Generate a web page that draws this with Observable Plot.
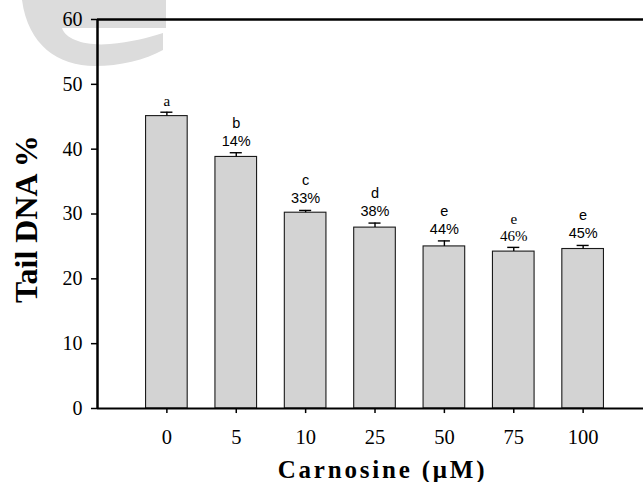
<!DOCTYPE html>
<html>
<head>
<meta charset="utf-8">
<script src="https://cdn.jsdelivr.net/npm/d3@7"></script>
<script src="https://cdn.jsdelivr.net/npm/@observablehq/plot@0.6"></script>
<style>
  body { margin: 0; background: #fff; }
  #wrap { position: relative; width: 643px; height: 482px; overflow: hidden; }
  #wm { position: absolute; left: 0; top: 0; }
  #chart { position: absolute; left: 0; top: 0; }
</style>
</head>
<body>
<div id="wrap">
  <svg id="wm" width="643" height="482">
    <path d="M22,0 H166 V28 H62 C66,40 86,46 110,44 C130,42 148,38 163,33 L163,50 C145,60 120,66 95,66 C58,66 28,45 22,0 Z" fill="#dcdcdc"/>
  </svg>
  <div id="chart"></div>
</div>
<script>
// ---- data ----
const doses = ["0", "5", "10", "25", "50", "75", "100"];           // Carnosine (µM)
const tailDNA = [45.1, 38.8, 30.2, 27.9, 25.0, 24.2, 24.6];       // Tail DNA %
const sem = [0.6, 0.65, 0.35, 0.7, 0.85, 0.65, 0.55];             // upward error bars
const letters = ["a", "b", "c", "d", "e", "e", "e"];
const reductions = ["", "14%", "33%", "38%", "44%", "46%", "45%"];
const yTicks = [0, 10, 20, 30, 40, 50, 60];
const xLabel = "Carnosine (\u03BCM)";
const yLabel = "Tail DNA %";

// style config (not data)
const serifLabelBars = [0, 5];

const rows = doses.map((d, i) => ({
  i,
  dose: d,
  value: tailDNA[i],
  top: tailDNA[i] + sem[i],
  label: reductions[i] ? letters[i] + "\n" + reductions[i] : letters[i]
}));

const half = 0.3, cap = 0.087, yTickLen = 0.087, xTickLen = 0.78;
const serif = "Liberation Serif", sans = "Liberation Sans";

const chart = Plot.plot({
  width: 643,
  height: 482,
  marginLeft: 97,
  marginRight: 0,
  marginTop: 19,
  marginBottom: 74,
  style: { background: "transparent" },
  x: { type: "linear", domain: [-1, 6.87], axis: null },
  y: { domain: [0, 60], axis: null },
  marks: [
    Plot.rectY(rows, {
      x1: d => d.i - half, x2: d => d.i + half, y1: 0, y2: "value",
      fill: "#d3d3d3", stroke: "#1a1a1a", strokeWidth: 1.1
    }),
    Plot.ruleX(rows, { x: "i", y1: "value", y2: "top", stroke: "black", strokeWidth: 1.4 }),
    Plot.ruleY(rows, { y: "top", x1: d => d.i - cap, x2: d => d.i + cap, stroke: "black", strokeWidth: 1.4 }),
    Plot.text(rows.filter(d => !serifLabelBars.includes(d.i)), {
      x: "i", y: "top", text: "label", lineAnchor: "bottom", dy: -7,
      fontFamily: sans, fontSize: 14.5, lineHeight: 1.25, fill: "black"
    }),
    Plot.text(rows.filter(d => serifLabelBars.includes(d.i)), {
      x: "i", y: "top", text: "label", lineAnchor: "bottom", dy: -6,
      fontFamily: serif, fontSize: 15, lineHeight: 1.15, fill: "black"
    }),
    // y axis ticks & labels
    Plot.ruleY(yTicks, { y: d => d, x1: -1 - yTickLen, x2: -1, stroke: "black", strokeWidth: 1.5 }),
    Plot.text(yTicks, {
      x: -1, y: d => d, text: d => String(d), textAnchor: "end", dx: -15,
      fontFamily: serif, fontSize: 20, fill: "black"
    }),
    // x axis ticks & labels
    Plot.ruleX(rows, { x: "i", y1: 0, y2: -xTickLen, stroke: "black", strokeWidth: 1.5 }),
    Plot.text(rows, {
      x: "i", y: 0, text: "dose", lineAnchor: "bottom", dy: 35,
      fontFamily: serif, fontSize: 20.5, fill: "black"
    }),
    // frame lines
    Plot.ruleX([-1], { y1: 0, y2: 60, stroke: "black", strokeWidth: 2.5 }),
    Plot.ruleY([0], { stroke: "black", strokeWidth: 2 }),
    Plot.ruleY([60], { stroke: "black", strokeWidth: 2.6 }),
    // axis titles
    Plot.text([yLabel], {
      frameAnchor: "left", rotate: -90, dx: -61, dy: 5,
      textAnchor: "middle", lineAnchor: "bottom",
      fontFamily: serif, fontWeight: "bold", fontSize: 32, fill: "black"
    }),
    Plot.text([xLabel], {
      frameAnchor: "bottom", dx: 12, dy: 69,
      textAnchor: "middle", lineAnchor: "bottom",
      fontFamily: serif, fontWeight: "bold", fontSize: 25, fill: "black"
    })
  ]
});
d3.select(chart).selectAll("text")
  .filter(function () { return this.textContent === xLabel; })
  .style("letter-spacing", "2.8px");
document.getElementById("chart").appendChild(chart);
</script>
</body>
</html>
